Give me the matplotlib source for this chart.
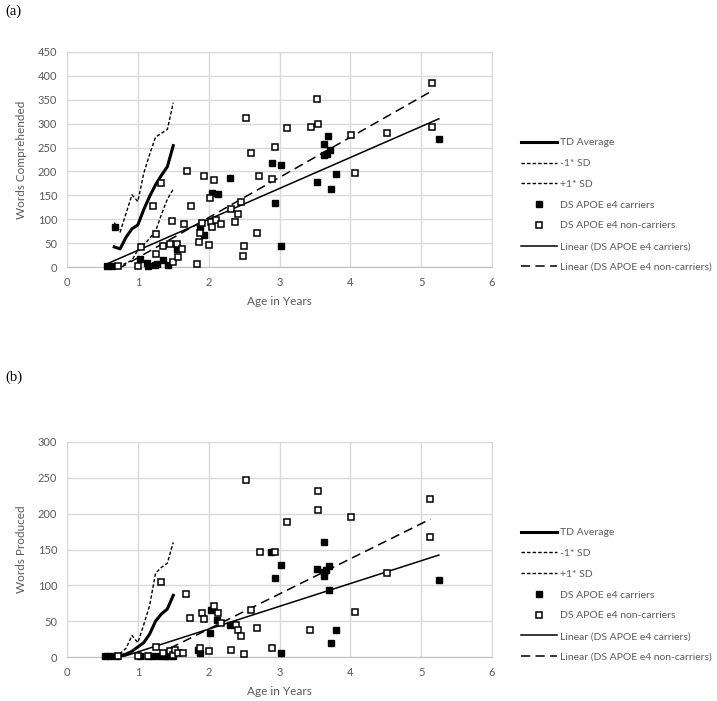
#!/usr/bin/env python3
"""Vocabulary vs age: TD norms (mean +/- 1 SD) against DS APOE e4 carriers / non-carriers.

Two stacked panels, (a) words comprehended and (b) words produced, Excel-style look.
Output: out.png
"""

import matplotlib.pyplot as plt
import numpy as np

# TD norms, monthly from 8 to 18 months
TD_AGE = [0.667, 0.75, 0.833, 0.917, 1.0, 1.083, 1.167, 1.25, 1.333, 1.417, 1.5]
TD_A_MEAN = [42, 38, 62, 80, 88, 120, 148, 172, 192, 210, 254]
TD_A_LOW = [-8, 2, 8, 14, 36, 46, 60, 75, 110, 142, 163]
TD_A_HIGH = [93, 73, 112, 151, 137, 196, 236, 272, 280, 288, 344]
TD_B_MEAN = [1, 2, 4, 8, 14, 20, 32, 50, 60, 67, 86]
TD_B_LOW = [0, -1, -4, -14, 8, -5, -8, -17, -5, 3, 12]
TD_B_HIGH = [2, 5, 12, 30, 20, 45, 72, 117, 125, 131, 160]

# (a) words comprehended
A_CAR_AGE = [0.56, 0.63, 0.68, 1.03, 1.13, 1.15, 1.24, 1.27, 1.36, 1.42, 1.55, 1.88, 1.93, 2.04, 2.13,
             2.30, 2.89, 2.93, 3.02, 3.02, 3.53, 3.63, 3.63, 3.67, 3.69, 3.71, 3.73, 3.80, 5.25]
A_CAR_WORDS = [2, 2, 83, 17, 9, 3, 4, 6, 14, 4, 38, 84, 67, 155, 153,
               187, 218, 134, 213, 45, 178, 257, 235, 237, 275, 244, 164, 195, 268]
A_NON_AGE = [0.72, 1.00, 1.04, 1.22, 1.25, 1.25, 1.33, 1.35, 1.46, 1.48, 1.50, 1.55, 1.57, 1.62, 1.65,
             1.69, 1.75, 1.84, 1.86, 1.88, 1.90, 1.94, 2.00, 2.02, 2.03, 2.05, 2.07, 2.11, 2.18, 2.32,
             2.37, 2.41, 2.45, 2.49, 2.50, 2.52, 2.60, 2.68, 2.71, 2.89, 2.93, 3.10, 3.44, 3.53, 3.55,
             4.01, 4.07, 4.52, 5.15, 5.15]
A_NON_WORDS = [3, 3, 42, 128, 27, 69, 176, 45, 49, 97, 10, 49, 21, 38, 91,
               201, 128, 7, 52, 72, 93, 190, 46, 144, 95, 83, 182, 99, 91, 121,
               94, 111, 136, 24, 43, 312, 238, 71, 190, 185, 252, 291, 294, 351, 300,
               277, 196, 280, 385, 292]

# (b) words produced
B_CAR_AGE = [0.54, 0.61, 0.70, 1.03, 1.14, 1.22, 1.31, 1.38, 1.43, 1.50, 1.85, 1.88, 2.02, 2.03, 2.12,
             2.30, 2.88, 2.93, 3.02, 3.02, 3.53, 3.63, 3.63, 3.63, 3.66, 3.70, 3.70, 3.72, 3.80, 5.25]
B_CAR_WORDS = [2, 2, 2, 2, 2, 2, 2, 2, 2, 2, 10, 6, 34, 66, 52,
               44, 147, 110, 128, 6, 123, 160, 118, 113, 122, 127, 93, 19, 37, 108]
B_NON_AGE = [0.72, 1.00, 1.15, 1.25, 1.33, 1.35, 1.46, 1.50, 1.53, 1.57, 1.64, 1.68, 1.74, 1.88, 1.90,
             1.94, 2.00, 2.07, 2.13, 2.18, 2.32, 2.38, 2.41, 2.45, 2.50, 2.52, 2.60, 2.68, 2.72, 2.89,
             2.93, 3.10, 3.43, 3.54, 3.55, 4.01, 4.07, 4.52, 5.13, 5.13]
B_NON_WORDS = [2, 2, 2, 14, 105, 5, 8, 3, 10, 6, 5, 88, 55, 12, 61,
               53, 9, 71, 62, 47, 10, 44, 37, 29, 4, 247, 65, 40, 147, 12,
               147, 189, 38, 205, 232, 196, 63, 117, 221, 168]

# Excel linear trendlines (slope, intercept) as shown on the chart
A_CAR_FIT = [64.8, -30.0]
A_NON_FIT = [84.1, -64.8]
B_CAR_FIT = [31.8, -24.7]
B_NON_FIT = [49.0, -59.0]

LABELS = ["TD Average", "-1* SD", "+1* SD", "DS APOE e4 carriers", "DS APOE e4 non-carriers",
          "Linear (DS APOE e4 carriers)", "Linear (DS APOE e4 non-carriers)"]

GRID = "#D9D9D9"
TXT = "#595959"
W, H = 717, 701

plt.rcParams.update({
    "font.family": ["Lato", "DejaVu Sans"],
    "font.size": 8,
    "axes.edgecolor": GRID,
})


def panel(fig, top_px, tag, tag_px, ylabel, ymax, td, car, non, car_fit, non_fit):
    left, right, height = 67, 492, 215
    ax = fig.add_axes([left / W, (H - top_px - height) / H, (right - left) / W, height / H])
    mean, low, high = td

    ax.plot(TD_AGE, mean, color="black", lw=2.2, label=LABELS[0])
    ax.plot(TD_AGE, low, color="black", lw=1.0, dashes=(2.5, 1.5), label=LABELS[1])
    ax.plot(TD_AGE, high, color="black", lw=1.0, dashes=(2.5, 1.5), label=LABELS[2])
    ax.plot(car[0], car[1], ls="none", marker="s", ms=5, mfc="black", mec="black", mew=1.0,
            clip_on=False, zorder=4, label=LABELS[3])
    ax.plot(non[0], non[1], ls="none", marker="s", ms=5, mfc="white", mec="black", mew=1.1,
            clip_on=False, zorder=4, label=LABELS[4])
    for (ages, _), fit, style, lab in [(car, car_fit, "-", LABELS[5]), (non, non_fit, "--", LABELS[6])]:
        xs = np.array([min(ages), max(ages)])
        kw = dict(dashes=(6, 3.5)) if style == "--" else {}
        ax.plot(xs, np.polyval(fit, xs), color="black", lw=1.1, label=lab, **kw)

    ax.set_xlim(0, 6)
    ax.set_ylim(0, ymax)
    ax.set_xticks(range(7))
    ax.set_yticks(range(0, ymax + 1, 50))
    ax.grid(True, color=GRID, lw=1.0)
    ax.set_axisbelow(True)
    for s in ax.spines.values():
        s.set_color(GRID)
    ax.spines["bottom"].set_color("#BFBFBF")
    ax.tick_params(length=0, colors=TXT, labelsize=8, pad=7)
    ax.set_xlabel("Age in Years", color=TXT, fontsize=8.5, labelpad=6)
    ax.set_ylabel(ylabel, color=TXT, fontsize=8.5, labelpad=8)

    fig.text(5 / W, 1 - tag_px / H, tag, family="Liberation Serif", fontsize=10.5,
             va="center", ha="left")
    ax.legend(loc="center left", bbox_to_anchor=(516 / W, 1 - (top_px + 153) / H),
              bbox_transform=fig.transFigure, frameon=False, fontsize=7.5, labelcolor=TXT,
              handlelength=3.4, handletextpad=0.3, labelspacing=1.1, borderpad=0)
    return ax


def main():
    fig = plt.figure(figsize=(W / 100, H / 100), dpi=100)
    panel(fig, 52, "(a)", 11, "Words Comprehended", 450,
          (TD_A_MEAN, TD_A_LOW, TD_A_HIGH), (A_CAR_AGE, A_CAR_WORDS), (A_NON_AGE, A_NON_WORDS),
          A_CAR_FIT, A_NON_FIT)
    panel(fig, 442, "(b)", 377, "Words Produced", 300,
          (TD_B_MEAN, TD_B_LOW, TD_B_HIGH), (B_CAR_AGE, B_CAR_WORDS), (B_NON_AGE, B_NON_WORDS),
          B_CAR_FIT, B_NON_FIT)
    fig.savefig("out.png", dpi=100)
    plt.close(fig)


if __name__ == "__main__":
    main()
